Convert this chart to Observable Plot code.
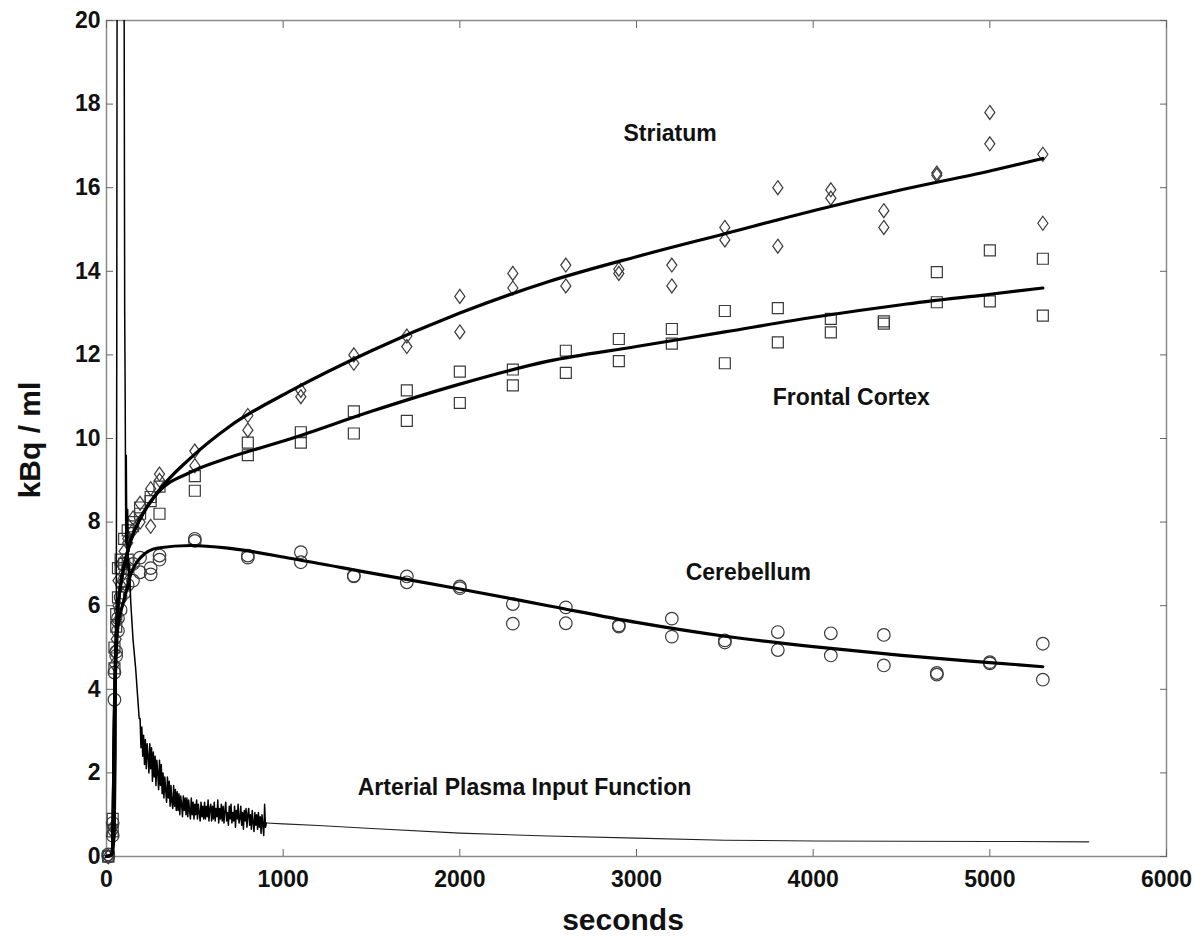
<!DOCTYPE html>
<html>
<head>
<meta charset="utf-8">
<script src="https://cdn.jsdelivr.net/npm/d3@7"></script>
<script src="https://cdn.jsdelivr.net/npm/@observablehq/plot@0.6"></script>
<style>
  html, body { margin: 0; padding: 0; background: #fff; }
  #wrap { position: relative; width: 1194px; height: 937px; }
  .axlabel { position: absolute; font-family: 'Liberation Sans', Arial, sans-serif; font-weight: bold; font-size: 30px; color: #111; white-space: nowrap; }
  #xlabel { left: 623px; top: 920px; transform: translate(-50%, -50%); }
  #ylabel { left: 30px; top: 440px; transform: translate(-50%, -50%) rotate(-90deg); }
</style>
</head>
<body>
<div id="wrap">
  <div class="axlabel" id="xlabel">seconds</div>
  <div class="axlabel" id="ylabel">kBq / ml</div>
</div>
<script>
// ---- tick values ----
const xTicks = [0, 1000, 2000, 3000, 4000, 5000, 6000];
const yTicks = [0, 2, 4, 6, 8, 10, 12, 14, 16, 18, 20];

// ---- measured tissue data (two values per frame) ----
const frameTimes = [10, 35, 45, 55, 65, 80, 100, 120, 150, 190, 250, 300, 500, 800, 1100, 1400, 1700, 2000, 2300, 2600, 2900, 3200, 3500, 3800, 4100, 4400, 4700, 5000, 5300];
const striatumA = [0, 0.7, 4.6, 5.2, 6.0, 6.5, 7.3, 7.5, 8.1, 8.45, 8.8, 9.15, 9.7, 10.55, 11.15, 12.0, 12.45, 13.4, 13.95, 14.15, 14.05, 14.15, 15.05, 16.0, 15.95, 15.45, 16.35, 17.8, 16.8];
const striatumB = [0, 0.6, 4.9, 5.6, 6.6, 7.0, 6.8, 7.6, 7.8, 8.0, 7.9, 9.0, 9.35, 10.2, 11.0, 11.8, 12.2, 12.55, 13.6, 13.65, 13.95, 13.65, 14.75, 14.6, 15.75, 15.05, 16.3, 17.05, 15.15];
const frontalA = [0, 0.9, 4.5, 5.8, 6.2, 6.9, 7.6, 7.8, 8.0, 8.2, 8.5, 8.2, 9.1, 9.9, 10.15, 10.65, 11.15, 11.6, 11.65, 12.1, 12.38, 12.62, 13.05, 13.12, 12.86, 12.8, 13.98, 14.5, 14.3];
const frontalB = [0, 0.6, 5.0, 5.5, 6.9, 7.1, 7.0, 7.1, 7.9, 8.35, 8.6, 8.85, 8.75, 9.6, 9.9, 10.12, 10.42, 10.85, 11.27, 11.57, 11.85, 12.27, 11.8, 12.3, 12.54, 12.75, 13.26, 13.28, 12.94];
const cerebellumA = [0, 0.8, 3.75, 4.8, 5.4, 5.9, 6.3, 6.9, 7.0, 7.15, 6.9, 7.2, 7.6, 7.2, 7.28, 6.72, 6.7, 6.46, 6.04, 5.96, 5.53, 5.69, 5.17, 5.37, 5.34, 5.3, 4.39, 4.65, 5.09];
const cerebellumB = [0.05, 0.5, 4.4, 4.9, 5.7, 6.2, 6.6, 6.5, 6.6, 6.8, 6.75, 7.1, 7.55, 7.15, 7.04, 6.7, 6.56, 6.42, 5.57, 5.58, 5.5, 5.26, 5.12, 4.94, 4.81, 4.57, 4.35, 4.62, 4.23];

// ---- fitted model curves ----
const fitTimes = [0, 30, 38, 42, 46, 50, 55, 60, 68, 80, 97, 137, 193, 290, 480, 700, 1047, 1500, 2000, 2500, 3000, 3500, 4000, 4500, 5000, 5300];
const striatumFit = [0, 0.05, 1.0, 2.5, 3.8, 4.6, 5.3, 5.7, 6.1, 6.5, 6.9, 7.56, 8.1, 8.72, 9.55, 10.3, 11.15, 12.1, 13.0, 13.75, 14.35, 14.9, 15.45, 15.95, 16.4, 16.7];
const frontalFit = [0, 0.05, 1.0, 2.5, 3.8, 4.6, 5.3, 5.7, 6.1, 6.5, 6.9, 7.56, 8.1, 8.7, 9.2, 9.55, 10.0, 10.65, 11.3, 11.85, 12.2, 12.55, 12.9, 13.2, 13.45, 13.6];
const cerebellumFit = [0, 0.05, 1.0, 2.4, 3.6, 4.3, 4.9, 5.3, 5.6, 5.85, 6.1, 6.75, 7.15, 7.38, 7.44, 7.37, 7.13, 6.78, 6.4, 6.0, 5.6, 5.27, 5.02, 4.81, 4.64, 4.54];

// ---- arterial plasma input function ----
const inputEarlyTimes = [0, 20, 40, 48, 54, 58, 62, 75, 95, 100, 103, 106, 109, 112, 116, 120, 125, 130, 137, 150, 165, 180, 185];
const inputEarlyValues = [0, 0, 0.1, 0.5, 2.5, 12, 30, 45, 30, 20, 13, 10.8, 7.5, 9.6, 6.9, 8.3, 6.4, 7.0, 6.1, 5.2, 4.5, 3.6, 3.3];
const inputNoisyStart = 190, inputNoisyStep = 5;
const inputNoisyValues = [
  3.3, 2.6, 3.1, 2.4, 2.9, 2.2, 2.8, 2.1, 2.7, 2.4, 2.0, 2.7, 2.1,
  2.6, 1.8, 2.5, 1.9, 2.4, 1.7, 2.3, 2.0, 1.6, 2.3,
  1.7, 2.2, 1.5, 2.0, 1.4, 1.9, 1.6, 1.3, 1.9, 1.4,
  1.8, 1.2, 1.7, 1.3, 1.15, 1.7, 1.2, 1.6, 1.1, 1.55,
  1.1, 1.5, 1.0, 1.45, 1.25, 0.95, 1.45, 1.1, 1.4, 1.0,
  1.4, 0.95, 1.35, 1.1, 0.9, 1.4, 1.0, 1.3, 0.9, 1.25,
  1.0, 1.35, 0.9, 1.25, 1.05, 0.85, 1.3, 0.95, 1.2, 0.9,
  1.3, 0.9, 1.2, 0.95, 1.35, 0.85, 1.15, 1.25, 0.85, 1.2,
  0.9, 1.3, 0.85, 1.15, 0.95, 1.35, 0.8, 1.15, 0.9, 1.25,
  0.85, 1.2, 0.8, 1.1, 1.3, 0.85, 1.05, 0.75, 1.2, 0.9,
  1.25, 0.8, 1.05, 0.85, 1.2, 0.7, 1.1, 0.9, 1.25, 0.8,
  0.9, 1.2, 0.75, 1.05, 0.65, 1.1, 0.85, 1.15, 0.7, 1.0,
  1.15, 0.75, 1.0, 0.65, 1.1, 0.8, 0.6, 1.05, 0.75, 1.0,
  0.65, 1.05, 0.7, 0.95, 0.55, 1.0, 0.75, 0.5, 1.25, 0.7,
  0.8
];
const inputTailTimes = [905, 1000, 1200, 1500, 2000, 2500, 3000, 3500, 4000, 5000, 5560];
const inputTailValues = [0.8, 0.78, 0.74, 0.67, 0.56, 0.49, 0.44, 0.39, 0.37, 0.36, 0.35];

// ---- annotations ----
const labelTexts = ["Striatum", "Frontal Cortex", "Cerebellum", "Arterial Plasma Input Function"];
const labelTimes = [3190, 4216, 3633, 2366];
const labelValues = [17.3, 10.98, 6.79, 1.65];

// ---- build tables ----
function pts(region, a, b) {
  const out = [];
  frameTimes.forEach((t, i) => { out.push({region, t, v: a[i]}); out.push({region, t, v: b[i]}); });
  return out;
}
const striatumPts = pts("Striatum", striatumA, striatumB);
const frontalPts = pts("Frontal Cortex", frontalA, frontalB);
const cerebellumPts = pts("Cerebellum", cerebellumA, cerebellumB);

const fitRows = [];
[["Striatum", striatumFit], ["Frontal Cortex", frontalFit], ["Cerebellum", cerebellumFit]].forEach(([region, vals]) => {
  fitTimes.forEach((t, i) => fitRows.push({region, t, v: vals[i]}));
});

const inputRows = [];
inputEarlyTimes.forEach((t, i) => inputRows.push({t, v: inputEarlyValues[i]}));
inputNoisyValues.forEach((v, i) => inputRows.push({t: inputNoisyStart + i * inputNoisyStep, v}));
const tailRows = inputTailTimes.map((t, i) => ({t, v: inputTailValues[i]}));

const labels = labelTexts.map((text, i) => ({text, t: labelTimes[i], v: labelValues[i]}));

// tall hollow diamond (taller than wide)
const tallDiamond = {
  draw(ctx, size) {
    const r = Math.sqrt(size / Math.PI);
    const w = r * 0.72;
    ctx.moveTo(0, -r); ctx.lineTo(w, 0); ctx.lineTo(0, r); ctx.lineTo(-w, 0); ctx.closePath();
  }
};

const markStyle = {x: "t", y: "v", stroke: "#3a3a3a", strokeWidth: 1.2, fill: "none"};

const chart = Plot.plot({
  width: 1194,
  height: 937,
  marginLeft: 106,
  marginRight: 28,
  marginTop: 20,
  marginBottom: 81,
  x: {domain: [0, 6000]},
  y: {domain: [0, 20]},
  style: {fontFamily: "'Liberation Sans', Arial, sans-serif", fontSize: "23px", fontWeight: "bold", color: "#111", background: "#fff", overflow: "visible"},
  marks: [
    Plot.frame({stroke: "#8a8a8a", strokeWidth: 1.5}),
    Plot.axisX(xTicks, {anchor: "bottom", tickSize: -7, tickPadding: 21, stroke: "#666", label: null, tickFormat: d => String(d)}),
    Plot.axisX(xTicks, {anchor: "top", tickSize: -7, stroke: "#666", label: null, tickFormat: () => ""}),
    Plot.axisY(yTicks, {anchor: "left", tickSize: -7, tickPadding: 13, stroke: "#666", label: null, tickFormat: d => String(d)}),
    Plot.axisY(yTicks, {anchor: "right", tickSize: -7, stroke: "#666", label: null, tickFormat: () => ""}),
    Plot.dot(striatumPts, {...markStyle, symbol: tallDiamond, r: 7}),
    Plot.dot(frontalPts, {...markStyle, symbol: "square", r: 6.2}),
    Plot.dot(cerebellumPts, {...markStyle, symbol: "circle", r: 6.3}),
    Plot.line(inputRows, {x: "t", y: "v", stroke: "#000", strokeWidth: 1.5, clip: true}),
    Plot.line(tailRows, {x: "t", y: "v", stroke: "#222", strokeWidth: 1.1}),
    Plot.line(fitRows, {x: "t", y: "v", z: "region", stroke: "#000", strokeWidth: 3.2, curve: "monotone-x"}),
    Plot.text(labels, {x: "t", y: "v", text: "text", fontSize: 23, fontWeight: "bold", fill: "#111", textAnchor: "middle"})
  ]
});
document.getElementById("wrap").prepend(chart);
</script>
</body>
</html>
